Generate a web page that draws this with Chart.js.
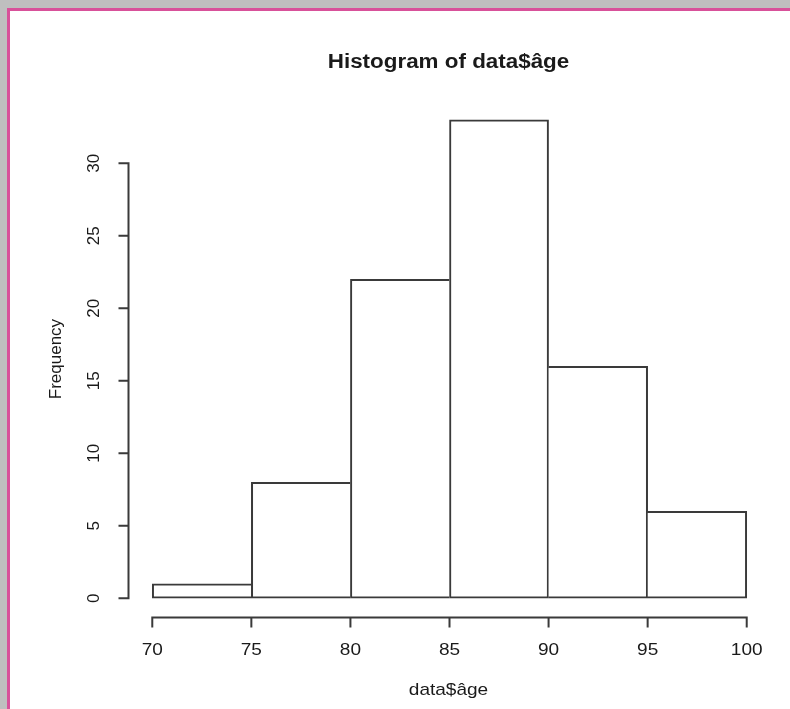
<!DOCTYPE html>
<html>
<head>
<meta charset="utf-8">
<script src="https://cdn.jsdelivr.net/npm/chart.js@4/dist/chart.umd.min.js"></script>
<style>
  html, body { margin: 0; padding: 0; }
  body { width: 790px; height: 709px; background: #bfbfbf; position: relative; overflow: hidden; }
  #frame { position: absolute; left: 7px; top: 8px; right: 0; bottom: 0; background: #ffffff;
           border-left: 3px solid #d8519a; border-top: 3px solid #d8519a; }
  #c { position: absolute; left: 0; top: 0; }
</style>
</head>
<body>
<div id="frame"></div>
<canvas id="c" width="790" height="709"></canvas>
<script>
// ---- data ----
const binEdges = [70, 75, 80, 85, 90, 95, 100];
const frequencies = [1, 8, 22, 33, 16, 6];
const xTicks = [70, 75, 80, 85, 90, 95, 100];
const yTicks = [0, 5, 10, 15, 20, 25, 30];
const titleText = 'Histogram of data$âge';
const xTitle = 'data$âge';
const yTitle = 'Frequency';

// R-style 4% range extension
const xRange = [binEdges[0], binEdges[binEdges.length - 1]];
const yMaxVal = Math.max(...frequencies);
const xPad = (xRange[1] - xRange[0]) * 0.04;
const yPad = yMaxVal * 0.04;

const points = frequencies.map((v, i) => ({ x: (binEdges[i] + binEdges[i + 1]) / 2, y: v }));

const LINE = '#3a3a3a';
const TEXT = '#1a1a1a';
const FONT = '"Liberation Sans", Arial, Helvetica, sans-serif';
const HSTRETCH = 1.12;

function wideText(ctx, s, x, y) {
  ctx.save();
  ctx.translate(x, y);
  ctx.scale(HSTRETCH, 1);
  ctx.fillText(s, 0, 0);
  ctx.restore();
}

const rAxes = {
  id: 'rAxes',
  afterDatasetsDraw(chart) {
    const { ctx, chartArea: a, scales: { x, y } } = chart;
    const tickLen = 10;
    ctx.save();
    ctx.strokeStyle = LINE;
    ctx.lineWidth = 2;
    ctx.lineCap = 'butt';
    ctx.lineJoin = 'miter';

    // x axis
    const yb = a.bottom;
    const x0 = x.getPixelForValue(xTicks[0]);
    const x1 = x.getPixelForValue(xTicks[xTicks.length - 1]);
    ctx.beginPath();
    ctx.moveTo(x0, yb + tickLen);
    ctx.lineTo(x0, yb);
    ctx.lineTo(x1, yb);
    ctx.lineTo(x1, yb + tickLen);
    xTicks.slice(1, -1).forEach(t => {
      const px = x.getPixelForValue(t);
      ctx.moveTo(px, yb);
      ctx.lineTo(px, yb + tickLen);
    });
    ctx.stroke();

    // y axis
    const xl = a.left;
    const y0 = y.getPixelForValue(yTicks[0]);
    const y1 = y.getPixelForValue(yTicks[yTicks.length - 1]);
    ctx.beginPath();
    ctx.moveTo(xl - tickLen, y1);
    ctx.lineTo(xl, y1);
    ctx.lineTo(xl, y0);
    ctx.lineTo(xl - tickLen, y0);
    yTicks.slice(1, -1).forEach(t => {
      const py = y.getPixelForValue(t);
      ctx.moveTo(xl, py);
      ctx.lineTo(xl - tickLen, py);
    });
    ctx.stroke();

    // tick labels
    ctx.fillStyle = TEXT;
    ctx.font = '17px ' + FONT;
    ctx.textAlign = 'center';
    ctx.textBaseline = 'middle';
    xTicks.forEach(t => wideText(ctx, String(t), x.getPixelForValue(t), yb + 33));
    yTicks.forEach(t => {
      ctx.save();
      ctx.translate(xl - 34, y.getPixelForValue(t));
      ctx.rotate(-Math.PI / 2);
      ctx.fillText(String(t), 0, 0);
      ctx.restore();
    });

    const cx = (a.left + a.right) / 2 - 1;
    const cy = (a.top + a.bottom) / 2;
    // axis titles
    wideText(ctx, xTitle, cx, yb + 73);
    ctx.save();
    ctx.translate(56, cy);
    ctx.rotate(-Math.PI / 2);
    ctx.fillText(yTitle, 0, 0);
    ctx.restore();

    // main title
    ctx.font = 'bold 20px ' + FONT;
    wideText(ctx, titleText, cx, 62);
    ctx.restore();
  }
};

new Chart(document.getElementById('c'), {
  type: 'bar',
  data: {
    datasets: [{
      data: points,
      backgroundColor: '#ffffff',
      borderColor: LINE,
      borderSkipped: false,
      borderWidth: (c) => {
        const i = c.dataIndex;
        const v = frequencies[i];
        const left = (i === 0 || frequencies[i - 1] < v) ? 2 : 0;
        const right = (i === frequencies.length - 1 || frequencies[i + 1] <= v) ? 2 : 0;
        return { top: 2, bottom: 2, left: left, right: right };
      },
      barPercentage: 1,
      categoryPercentage: 1
    }]
  },
  options: {
    responsive: false,
    animation: false,
    devicePixelRatio: 1,
    layout: { padding: { left: 128.5, right: 19.5, top: 100.7, bottom: 91.6 } },
    scales: {
      x: { type: 'linear', min: xRange[0] - xPad, max: xRange[1] + xPad, display: false, offset: false },
      y: { type: 'linear', min: -yPad, max: yMaxVal + yPad, display: false }
    },
    plugins: { legend: { display: false }, tooltip: { enabled: false }, title: { display: false } }
  },
  plugins: [rAxes]
});
</script>
</body>
</html>
